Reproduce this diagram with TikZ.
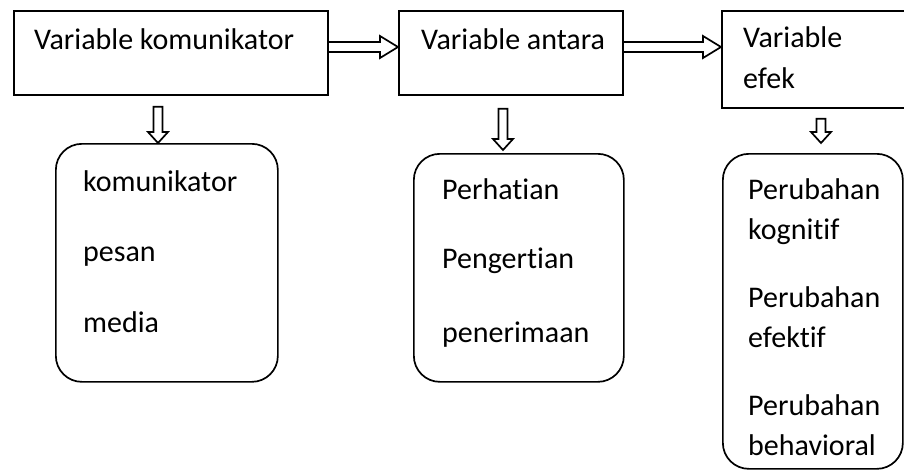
\documentclass[tikz,border=0pt]{standalone}
\usepackage{fontspec}
\setmainfont{Carlito}[Ligatures=NoCommon]
\usetikzlibrary{calc}
\tikzset{
  varbox/.style={draw, line width=1.7pt, rectangle, inner sep=0pt, anchor=north west},
  listbox/.style={draw, line width=1.7pt, rectangle, rounded corners=26pt, inner sep=0pt, anchor=north west},
  hollow/.style={line width=1.7pt, line join=miter},
  boxtext/.style={inner sep=0pt, anchor=base west, font=\fontsize{30}{40}\selectfont},
  listtext/.style={inner sep=0pt, anchor=north west, align=left, font=\fontsize{30}{40}\selectfont}
}
% hollow block arrows
\newcommand{\hollowright}[2]{%
  \draw[hollow] ($(#1)+(0,-5)$) -| ($(#2)+(-18,-11)$) -- (#2)
    -- ($(#2)+(-18,11)$) |- ($(#1)+(0,5)$);
}
\newcommand{\hollowdown}[2]{%
  \draw[hollow] ($(#1)+(-4.5,0)$) |- ($(#2)+(-10,-11)$) -- (#2)
    -- ($(#2)+(10,-11)$) -| ($(#1)+(4.5,0)$) -- cycle;
}

\begin{document}
\begin{tikzpicture}[x=1pt,y=-1pt]
    \useasboundingbox (0,0) rectangle (904,471);

    %top row: variable boxes
    \node[varbox, minimum width=314, minimum height=84] (kom) at (13,10) {};
    \node[varbox, minimum width=224, minimum height=84] (ant) at (398,10) {};
    \node[varbox, minimum width=190, minimum height=97] (efk) at (721,10) {};

    \node[boxtext] (komt) at (34,49) {Variable komunikator};
    \node[boxtext] (antt) at (421,49) {Variable antara};
    \node[listtext] (efkt) at (743,26) {Variable\\[1pt]efek};

    %bottom row: rounded boxes
    \node[listbox, minimum width=222, minimum height=238] (komlist) at (55,143) {};
    \node[listbox, minimum width=210, minimum height=228] (antlist) at (413,153) {};
    \node[listbox, minimum width=180, minimum height=315] (efklist) at (722,153) {};

    \node[listtext] (komitems) at (83,170) {komunikator\\[30pt]pesan\\[31pt]media};
    \node[listtext] (antitems) at (442,178) {Perhatian\\[29pt]Pengertian\\[34pt]penerimaan};
    \node[listtext] (efkitems) at (748,178)
        {Perubahan\\kognitif\\[28pt]Perubahan\\efektif\\[28pt]Perubahan\\behavioral};

    %arrows between the top boxes
    \coordinate (r1a) at ($(kom.north east)+(0,37)$);
    \coordinate (r1b) at ($(ant.north west)+(0,37)$);
    \coordinate (r2a) at ($(ant.north east)+(0,37)$);
    \coordinate (r2b) at ($(efk.north west)+(0,37)$);
    \foreach \a/\b in {r1a/r1b, r2a/r2b}
        {\hollowright{\a}{\b}}

    %arrows down to the lists
    \coordinate (d1a) at ($(kom.south west)+(145,11)$);
    \coordinate (d1b) at ($(komlist.north west)+(103,0)$);
    \coordinate (d2a) at ($(ant.south west)+(105,13)$);
    \coordinate (d2b) at ($(antlist.north west)+(90,-3)$);
    \coordinate (d3a) at ($(efk.south west)+(100,10)$);
    \coordinate (d3b) at ($(efklist.north west)+(99,-10)$);
    \foreach \a/\b in {d1a/d1b, d2a/d2b, d3a/d3b}
        {\hollowdown{\a}{\b}}
\end{tikzpicture}
\end{document}
